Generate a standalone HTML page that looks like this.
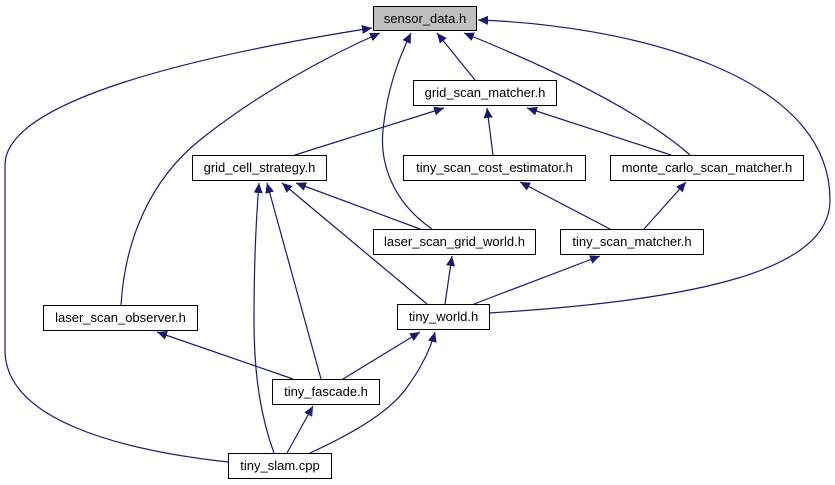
<!DOCTYPE html>
<html><head><meta charset="utf-8"><style>
html,body{margin:0;padding:0;background:#fff;}
svg{display:block;}
text{font-family:"Liberation Sans",sans-serif;font-size:13px;text-anchor:middle;fill:#000;}
</style></head><body>
<svg width="835" height="485" viewBox="0 0 835 485" xmlns="http://www.w3.org/2000/svg">
<defs>
<marker id="a" markerUnits="userSpaceOnUse" markerWidth="12" markerHeight="10" refX="10" refY="4.5" orient="auto">
<path d="M0,0 L10,4.5 L0,9 z" fill="#191970"/>
</marker>
</defs>
<g fill="none" stroke="#191970" stroke-width="1.2" marker-end="url(#a)">
<path d="M475,80 L437,33"/>
<path d="M690,155 C650,120 580,80 464,33"/>
<path d="M489,313 C700,300 830,270 830,200 C830,70 620,25 478,20"/>
<path d="M432,229 C390,200 380,160 383,130 C387,90 398,60 411,33"/>
<path d="M121,305 C125,240 150,180 200,140 C260,92 330,55 380,33"/>
<path d="M228,462 C120,450 5,420 5,350 L5,165 C5,100 200,55 372,28"/>
<path d="M295,155 L444,108"/>
<path d="M493,155 L487,108"/>
<path d="M671,155 L527,108"/>
<path d="M610,229 L520,182"/>
<path d="M644,229 L686,182"/>
<path d="M420,229 L296,183"/>
<path d="M427,304 L282,183"/>
<path d="M321,379 L267,183"/>
<path d="M274,453 C262,420 254,380 254,320 C254,260 256,220 259,183"/>
<path d="M445,304 L452,256"/>
<path d="M474,304 L600,256"/>
<path d="M293,379 L157,332"/>
<path d="M343,379 L420,332"/>
<path d="M287,453 L313,406"/>
<path d="M310,453 C360,430 390,410 405,390 C420,370 430,350 435,332"/>
</g>
<g stroke="#000" stroke-width="1">
<rect x="373.5" y="6.5" width="103" height="24" fill="#bfbfbf"/>
<rect x="413.5" y="80.5" width="143" height="25" fill="#fff"/>
<rect x="192.5" y="155.5" width="134" height="25" fill="#fff"/>
<rect x="403.5" y="155.5" width="182" height="25" fill="#fff"/>
<rect x="610.5" y="155.5" width="193" height="25" fill="#fff"/>
<rect x="373.5" y="229.5" width="162" height="25" fill="#fff"/>
<rect x="560.5" y="229.5" width="143" height="25" fill="#fff"/>
<rect x="43.5" y="305.5" width="154" height="25" fill="#fff"/>
<rect x="397.5" y="304.5" width="92" height="25" fill="#fff"/>
<rect x="272.5" y="379.5" width="107" height="25" fill="#fff"/>
<rect x="228.5" y="453.5" width="103" height="25" fill="#fff"/>
</g>
<text x="425" y="23">sensor_data.h</text>
<text x="485" y="97">grid_scan_matcher.h</text>
<text x="259.5" y="172">grid_cell_strategy.h</text>
<text x="494.5" y="172">tiny_scan_cost_estimator.h</text>
<text x="707" y="172">monte_carlo_scan_matcher.h</text>
<text x="454.5" y="246">laser_scan_grid_world.h</text>
<text x="632" y="246">tiny_scan_matcher.h</text>
<text x="120.5" y="322">laser_scan_observer.h</text>
<text x="443.5" y="321">tiny_world.h</text>
<text x="326" y="396">tiny_fascade.h</text>
<text x="280" y="470">tiny_slam.cpp</text>
</svg>
</body></html>
